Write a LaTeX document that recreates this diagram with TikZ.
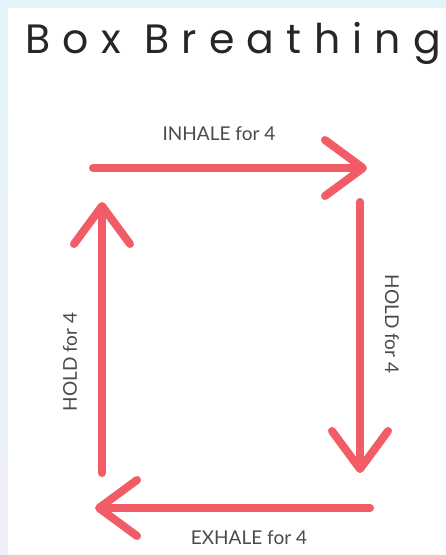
\documentclass[tikz,border=0pt]{standalone}
\usepackage{fontspec}
\setmainfont{Lato}
\newfontfamily\titlefont[LetterSpace=30]{Poppins}
\usetikzlibrary{arrows.meta}
\definecolor{breathc}{HTML}{F25C66}
\definecolor{textc}{HTML}{4A4A4A}
\definecolor{framec}{HTML}{E2F3FA}
\definecolor{framelow}{HTML}{EFEFF7}
\tikzset{
  ar/.style={-{Straight Barb[length=38pt,width=56pt,round]},line width=8pt,line cap=round,breathc},
  lbl/.style={font=\fontsize{19}{19}\selectfont,text=textc,inner sep=0pt}
}

\begin{document}
\begin{tikzpicture}[x=1pt,y=-1pt]
\useasboundingbox (0,0) rectangle (446,555);
% frame
\shade[top color=framec,bottom color=framelow] (0,0) rectangle (446,555);
\fill[white] (8,8) rectangle (446,555);
\node[anchor=base west,inner sep=0pt,font=\titlefont\fontsize{41}{41}\selectfont,text=black!85] (title) at (25,53) {Box Breathing};
% corners of the box
\coordinate (inA) at (93,168);  \coordinate (inB) at (367,168);
\coordinate (hdA) at (360,202); \coordinate (hdB) at (360,473);
\coordinate (exA) at (370,508); \coordinate (exB) at (95,508);
\coordinate (huA) at (102,473); \coordinate (huB) at (102,202);
\draw[ar] (inA) -- (inB);
\draw[ar] (hdA) -- (hdB);
\draw[ar] (exA) -- (exB);
\draw[ar] (huA) -- (huB);
% labels
\node[lbl] (inhale) at (219,134) {INHALE for 4};
\node[lbl,rotate=-90] (holdr) at (392,324) {HOLD for 4};
\node[lbl] (exhale) at (249,538) {EXHALE for 4};
\node[lbl,rotate=90] (holdl) at (70,362) {HOLD for 4};
\end{tikzpicture}
\end{document}
